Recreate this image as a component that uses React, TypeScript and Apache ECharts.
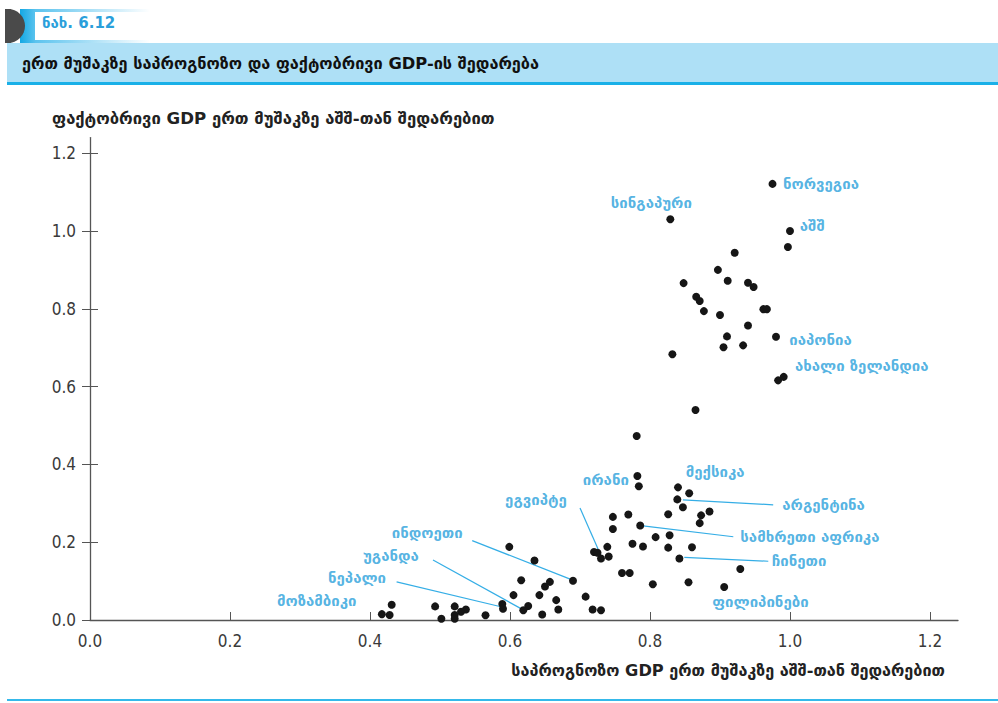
import React, { useEffect, useRef } from "react";
import * as echarts from "echarts";

// predicted GDP per worker relative to USA (x) and actual (y)
const predicted = [
  0.975, 0.829, 1.0, 0.997, 0.921, 0.897, 0.848, 0.911, 0.94, 0.948,
  0.866, 0.871, 0.877, 0.9, 0.962, 0.967, 0.94, 0.91, 0.98, 0.905,
  0.933, 0.832, 0.983, 0.991, 0.865, 0.781, 0.782, 0.784, 0.84, 0.856,
  0.839, 0.847, 0.885, 0.873, 0.871, 0.826, 0.769, 0.747, 0.747, 0.786,
  0.808, 0.828, 0.775, 0.79, 0.826, 0.86, 0.739, 0.72, 0.725, 0.73,
  0.741, 0.842, 0.929, 0.76, 0.771, 0.804, 0.855, 0.906, 0.708, 0.718,
  0.73, 0.599, 0.635, 0.69, 0.616, 0.657, 0.65, 0.605, 0.642, 0.666,
  0.669, 0.646, 0.626, 0.619, 0.589, 0.59, 0.565, 0.537, 0.53, 0.521,
  0.521, 0.521, 0.502, 0.493, 0.431, 0.417, 0.428,
];
const actual = [
  1.121, 1.03, 1.0, 0.959, 0.944, 0.9, 0.866, 0.872, 0.867, 0.856,
  0.831, 0.82, 0.794, 0.784, 0.799, 0.799, 0.757, 0.729, 0.728, 0.701,
  0.706, 0.683, 0.616, 0.625, 0.54, 0.473, 0.37, 0.344, 0.341, 0.326,
  0.31, 0.29, 0.279, 0.269, 0.249, 0.272, 0.271, 0.265, 0.234, 0.243,
  0.213, 0.218, 0.196, 0.189, 0.186, 0.187, 0.188, 0.175, 0.173, 0.158,
  0.163, 0.158, 0.131, 0.121, 0.121, 0.092, 0.097, 0.085, 0.06, 0.027,
  0.025, 0.188, 0.153, 0.101, 0.102, 0.098, 0.086, 0.064, 0.064, 0.051,
  0.027, 0.014, 0.036, 0.025, 0.041, 0.029, 0.012, 0.027, 0.021, 0.035,
  0.013, 0.003, 0.003, 0.035, 0.039, 0.015, 0.013,
];

const axisTicks = [0, 0.2, 0.4, 0.6, 0.8, 1.0, 1.2];

const countryNames = [
  "ნორვეგია", "აშშ", "სინგაპური", "იაპონია", "ახალი ზელანდია", "მექსიკა",
  "ირანი", "ეგვიპტე", "არგენტინა", "სამხრეთი აფრიკა", "ჩინეთი",
  "ფილიპინები", "ინდოეთი", "უგანდა", "ნეპალი", "მოზამბიკი",
];
// label anchor (left-middle of text) in data units — layout only
const countryLabelAt = [
  [0.99, 1.121], [1.014, 1.013], [0.744, 1.072], [0.999, 0.72], [1.007, 0.653], [0.851, 0.38],
  [0.704, 0.36], [0.593, 0.308], [0.989, 0.296], [0.929, 0.213], [0.974, 0.152],
  [0.889, 0.046], [0.431, 0.224], [0.39, 0.165], [0.34, 0.108], [0.267, 0.049],
];
// leader lines: [from, to] in data units — layout only
const leaderLines = [
  [[0.7, 0.288], [0.73, 0.165]],
  [[0.847, 0.309], [0.976, 0.296]],
  [[0.79, 0.242], [0.919, 0.214]],
  [[0.849, 0.161], [0.969, 0.151]],
  [[0.546, 0.204], [0.686, 0.105]],
  [[0.49, 0.154], [0.619, 0.026]],
  [[0.438, 0.098], [0.587, 0.034]],
];

const GEO = "'DejaVu Sans', 'Noto Sans', sans-serif";
const NUM = "'Liberation Sans Narrow', 'DejaVu Sans Condensed', 'Liberation Sans', sans-serif";
const BLUE = "#2a9fdb";

export default function App() {
  const ref = useRef<HTMLDivElement>(null);
  useEffect(() => {
    if (!ref.current) return;
    const chart = echarts.init(ref.current, null, { renderer: "svg" });
    const points = predicted.map((x, i) => [x, actual[i]]);
    chart.setOption({
      animation: false,
      backgroundColor: "#ffffff",
      grid: { left: 90, right: 40, top: 137.6, bottom: 83, containLabel: false },
      xAxis: {
        type: "value",
        min: 0,
        max: 1.24,
        interval: 0.2,
        axisLine: { show: true, onZero: false, lineStyle: { color: "#555", width: 1.3 } },
        axisTick: { show: true, inside: true, length: 8, customValues: axisTicks, lineStyle: { color: "#555", width: 1 } },
        axisLabel: {
          customValues: axisTicks,
          formatter: (v: number) => v.toFixed(1),
          fontFamily: NUM,
          fontSize: 17,
          color: "#3a3a3a",
          margin: 12,
        },
        splitLine: { show: false },
      },
      yAxis: [
        {
          type: "value",
          min: 0,
          max: 1.24,
          interval: 0.2,
          axisLine: { show: true, onZero: false, lineStyle: { color: "#555", width: 1.3 } },
          axisTick: { show: true, inside: false, length: 8, customValues: axisTicks, lineStyle: { color: "#555", width: 1 } },
          axisLabel: {
            customValues: axisTicks,
            formatter: (v: number) => v.toFixed(1),
            fontFamily: NUM,
            fontSize: 17,
            color: "#3a3a3a",
            margin: 14,
          },
          splitLine: { show: false },
        },
        {
          type: "value",
          min: 0,
          max: 1.24,
          interval: 0.2,
          position: "left",
          axisLine: { show: false },
          axisTick: { show: true, inside: true, length: 8, customValues: axisTicks, lineStyle: { color: "#555", width: 1 } },
          axisLabel: { show: false },
          splitLine: { show: false },
        },
      ],
      series: [
        {
          type: "scatter",
          data: points,
          symbolSize: 8,
          clip: false,
          itemStyle: { color: "#161616", opacity: 1 },
          z: 5,
        },
        {
          type: "scatter",
          data: countryNames.map((n, i) => ({ name: n, value: countryLabelAt[i] })),
          symbolSize: 0,
          clip: false,
          silent: true,
          label: {
            show: true,
            formatter: "{b}",
            position: [0, 0],
            align: "left",
            verticalAlign: "middle",
            color: BLUE,
            fontFamily: GEO,
            fontWeight: "bold",
            fontSize: 15,
          },
          markLine: {
            silent: true,
            symbol: "none",
            animation: false,
            label: { show: false },
            lineStyle: { color: "#35aee6", width: 1.2, type: "solid" },
            data: leaderLines.map(([a, b]) => [{ coord: a }, { coord: b }]),
          },
          z: 4,
        },
      ],
      graphic: [
        // figure number tab
        {
          type: "rect",
          shape: { x: 20, y: 9, width: 130, height: 34 },
          style: {
            fill: new echarts.graphic.LinearGradient(0, 0, 1, 0, [
              { offset: 0, color: "#13a8e4" },
              { offset: 0.12, color: "#5cc3ee" },
              { offset: 1, color: "#ffffff" },
            ]),
          },
        },
        { type: "rect", shape: { x: 35, y: 12, width: 200, height: 28 }, style: { fill: "#ffffff" } },
        { type: "rect", shape: { x: 5, y: 9, width: 6, height: 34 }, style: { fill: "#4a4a4a" } },
        { type: "sector", shape: { cx: 8, cy: 26, r: 17, startAngle: -Math.PI / 2, endAngle: Math.PI / 2 }, style: { fill: "#4a4a4a" } },
        {
          type: "text",
          left: 42,
          top: 15,
          style: { text: "ნახ. 6.12", fill: BLUE, font: `bold 15px ${GEO}` },
        },
        // title band
        { type: "rect", shape: { x: 7, y: 43, width: 991, height: 40 }, style: { fill: "#aee0f6" } },
        { type: "rect", shape: { x: 7, y: 82, width: 991, height: 3 }, style: { fill: "#1ab0e8" } },
        {
          type: "text",
          left: 22,
          top: 55,
          style: { text: "ერთ მუშაკზე საპროგნოზო და ფაქტობრივი GDP-ის შედარება", fill: "#111", font: `bold 16.3px ${GEO}` },
        },
        // axis titles
        {
          type: "text",
          left: 52,
          top: 110,
          style: { text: "ფაქტობრივი GDP ერთ მუშაკზე აშშ-თან შედარებით", fill: "#222", font: `bold 16.6px ${GEO}` },
        },
        {
          type: "text",
          right: 53,
          top: 662,
          style: { text: "საპროგნოზო GDP ერთ მუშაკზე აშშ-თან შედარებით", fill: "#222", font: `bold 16.2px ${GEO}` },
        },
        // bottom rule
        { type: "rect", shape: { x: 7, y: 699, width: 991, height: 2 }, style: { fill: "#35b9ea" } },
      ],
    });
    return () => chart.dispose();
  }, []);
  return (
    <div style={{ position: "fixed", left: 0, top: 0, width: 998, height: 703, background: "#fff" }}>
      <div ref={ref} style={{ width: 998, height: 703 }} />
    </div>
  );
}
